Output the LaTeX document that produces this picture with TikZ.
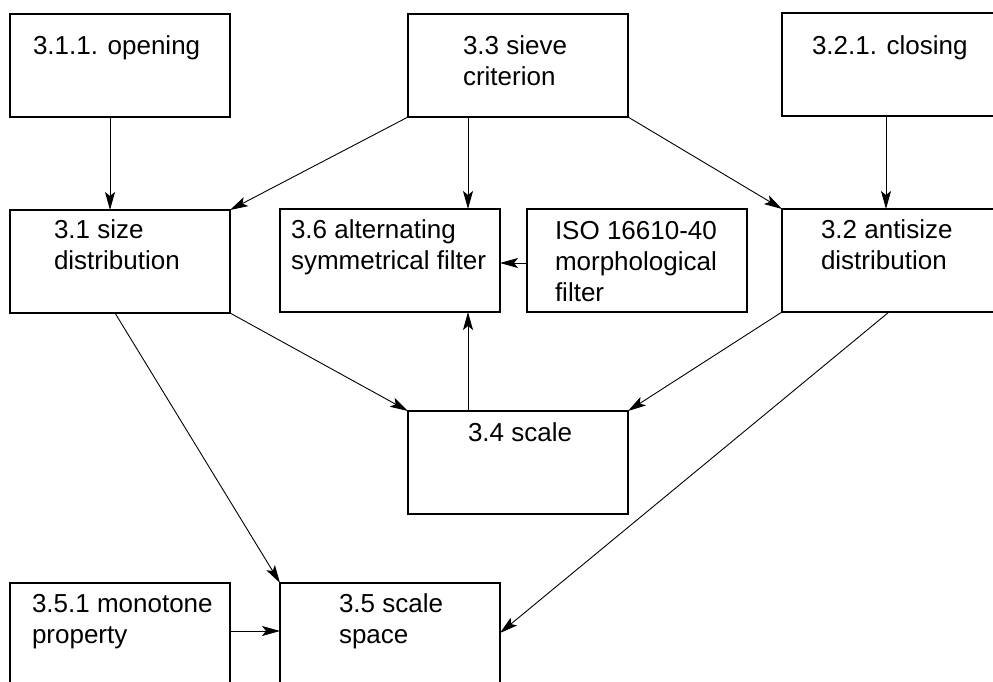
\documentclass[tikz,border=0pt]{standalone}
\usepackage{fontspec}
\setmainfont{Liberation Sans}
\usetikzlibrary{arrows.meta}
\begin{document}
\begin{tikzpicture}[x=1pt,y=-1pt,
  box/.style={draw,line width=1.6pt,minimum width=220pt,minimum height=103pt,anchor=north west,inner sep=0,outer sep=0},
  txt/.style={anchor=base west,inner sep=0,outer sep=0,align=left,font=\fontsize{26}{31}\selectfont},
  arr/.style={line width=0.9pt,-{Stealth[length=18pt,width=10pt,inset=4pt]}}]
\useasboundingbox (0,0) rectangle (993,682);
\clip (0,0) rectangle (993,682);
% boxes
\node[box] (open) at (10,14) {};
\node[box] (sieve) at (408,14) {};
\node[box] (close) at (782,13) {};
\node[box] (size) at (10,210) {};
\node[box] (alt) at (280,209) {};
\node[box] (iso) at (527,209) {};
\node[box] (anti) at (782,209) {};
\node[box] (scale) at (408,411) {};
\node[box] (mono) at (10,583) {};
\node[box] (space) at (280,583) {};
% texts (anchor = baseline of the last line)
\node[txt] (topen) at (33,55) {3.1.1. opening};
\node[txt] (tsieve) at (463,86) {3.3 sieve\\criterion};
\node[txt] (tclose) at (812,55) {3.2.1. closing};
\node[txt] (tsize) at (54,269) {3.1 size\\distribution};
\node[txt] (talt) at (291,269) {3.6 alternating\\symmetrical filter};
\node[txt] (tiso) at (555,301) {ISO 16610-40\\morphological\\ filter};
\node[txt] (tanti) at (821,269) {3.2 antisize\\distribution};
\node[txt] (tscale) at (468,441) {3.4 scale};
\node[txt] (tmono) at (32,643) {3.5.1 monotone\\property};
\node[txt] (tspace) at (339,643) {3.5 scale\\space};
% helper coordinates
\coordinate (xa) at (110,0);
\coordinate (xb) at (468,0);
\coordinate (xc) at (886,0);
\coordinate (ya) at (0,263);
\coordinate (xd) at (115,0);
\coordinate (xe) at (889,0);
\coordinate (yb) at (0,633);
\coordinate (yc) at (0,631);
% connectors
\draw[arr] (open.south -| xa) -- (size.north -| xa);
\draw[arr] (sieve.south west) -- (size.north east);
\draw[arr] (sieve.south -| xb) -- (alt.north -| xb);
\draw[arr] (sieve.south east) -- (anti.north west);
\draw[arr] (close.south -| xc) -- (anti.north -| xc);
\draw[arr] (iso.west |- ya) -- (alt.east |- ya);
\draw[arr] (scale.north -| xb) -- (alt.south -| xb);
\draw[arr] (size.south east) -- (scale.north west);
\draw[arr] (anti.south west) -- (scale.north east);
\draw[arr] (size.south -| xd) -- (space.north west);
\draw[arr] (anti.south -| xe) -- (space.east |- yb);
\draw[arr] (mono.east |- yc) -- (space.west |- yc);
\end{tikzpicture}
\end{document}
